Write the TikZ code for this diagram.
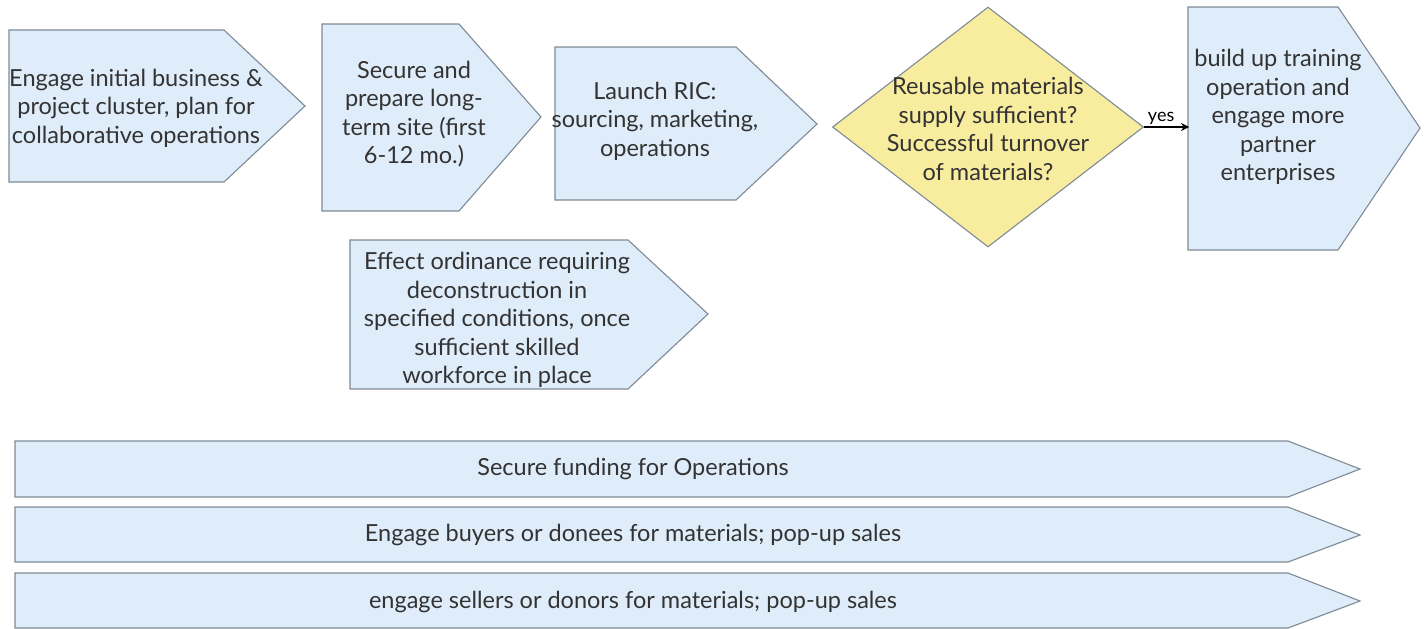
\documentclass[tikz,border=0pt]{standalone}
\usepackage{fontspec}
\setmainfont{Lato}
\usetikzlibrary{shapes.geometric,arrows.meta}
\definecolor{bfill}{HTML}{DFECF9}
\definecolor{bline}{HTML}{7F8A95}
\definecolor{yfill}{HTML}{F8EC9F}
\definecolor{txt}{HTML}{333333}
\tikzset{
  penta/.style={fill=bfill, draw=bline, line width=1.1pt, line join=miter},
  dia/.style={fill=yfill, draw=bline, line width=1.1pt},
  lbl/.style={align=center, text=txt, inner sep=0pt, font=\fontsize{23.5}{28.5}\selectfont},
  barlbl/.style={text=txt, inner sep=0pt, font=\fontsize{23.5}{26}\selectfont},
}
\begin{document}
\begin{tikzpicture}[x=1pt,y=-1pt]
\useasboundingbox (0,0) rectangle (1424,629);
% top row
\draw[penta] (9,30) -- (224,30) -- (305,106) -- (224,182) -- (9,182) -- cycle;
\node[lbl] (s1) at (136,108) {Engage initial business \&\\project cluster, plan for\\collaborative operations};
\draw[penta] (322,24) -- (459,24) -- (541,117) -- (459,211) -- (322,211) -- cycle;
\node[lbl] (s2) at (414,114) {Secure and\\prepare long-\\term site (first\\6-12 mo.)};
\draw[penta] (555,47) -- (736,47) -- (817,124) -- (736,200) -- (555,200) -- cycle;
\node[lbl] (s3) at (655,121) {Launch RIC:\\sourcing, marketing,\\operations};
\node[dia, shape=diamond, inner sep=0pt, minimum width=311pt, minimum height=240pt] (d) at (988,127) {};
\node[lbl] (dt) at (988,129) {Reusable materials\\supply sufficient?\\Successful turnover\\of materials?};
\draw[penta] (1188,7) -- (1338,7) -- (1420,128) -- (1338,250) -- (1188,250) -- cycle;
\coordinate (s5w) at (1189,127);
\node[lbl] (s5) at (1278,117) {build up training\\operation and\\engage more\\partner\\enterprises};
\draw[-{Stealth[length=8pt,width=8pt]}, line width=1.8pt, black] (d.east) -- node[above, font=\fontsize{18}{20}\selectfont, text=black, inner sep=2pt, pos=0.38] (yes) {yes} (s5w);
% second row
\draw[penta] (350,240) -- (628,240) -- (708,314) -- (628,389) -- (350,389) -- cycle;
\node[lbl] (s4) at (497,320) {Effect ordinance requiring\\deconstruction in\\specified conditions, once\\sufficient skilled\\workforce in place};
% bars
\draw[penta] (15,441) -- (1288,441) -- (1360,469) -- (1288,497) -- (15,497) -- cycle;
\node[barlbl] (b1) at (633,469) {Secure funding for Operations};
\draw[penta] (15,507) -- (1288,507) -- (1360,535) -- (1288,562) -- (15,562) -- cycle;
\node[barlbl] (b2) at (633,535) {Engage buyers or donees for materials; pop-up sales};
\draw[penta] (15,573) -- (1288,573) -- (1360,601) -- (1288,628) -- (15,628) -- cycle;
\node[barlbl] (b3) at (633,602) {engage sellers or donors for materials; pop-up sales};
\end{tikzpicture}
\end{document}
